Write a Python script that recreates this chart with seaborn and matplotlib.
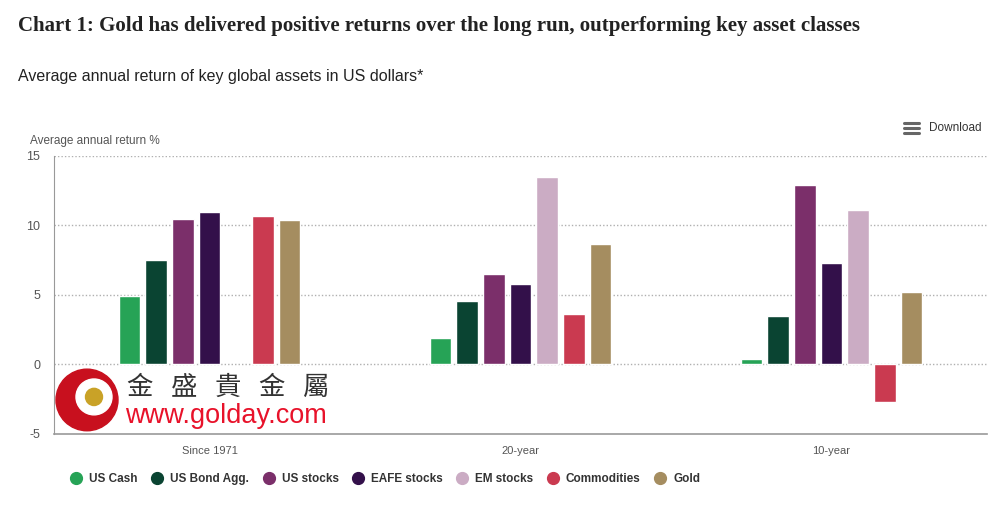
import numpy as np
import pandas as pd
import matplotlib.pyplot as plt
import seaborn as sns
from matplotlib.lines import Line2D
from matplotlib.patches import Ellipse

# Data
periods = ["Since 1971", "20-year", "10-year"]
assets = ["US Cash", "US Bond Agg.", "US stocks", "EAFE stocks", "EM stocks", "Commodities", "Gold"]
us_cash = [4.9, 1.9, 0.4]
us_bond = [7.5, 4.6, 3.5]
us_stocks = [10.5, 6.5, 12.9]
eafe_stocks = [11.0, 5.8, 7.3]
em_stocks = [np.nan, 13.5, 11.1]
commodities = [10.7, 3.6, -2.7]
gold = [10.4, 8.7, 5.2]
colors = ["#26a356", "#0a4432", "#7b2f6a", "#33104a", "#cbacc4", "#ca3a50", "#a58d60"]
yticks = [-5, 0, 5, 10, 15]

series = [us_cash, us_bond, us_stocks, eafe_stocks, em_stocks, commodities, gold]
rows = []
for asset, vals in zip(assets, series):
    for p, v in zip(periods, vals):
        rows.append({"period": p, "asset": asset, "value": v})
df = pd.DataFrame(rows).dropna()

sns.set_style("white")
plt.rcParams["font.family"] = ["Liberation Sans", "DejaVu Sans"]

fig = plt.figure(figsize=(10, 5.05), dpi=100)
ax = fig.add_axes([0.054, 0.1406, 0.933, 0.5505])

sns.barplot(data=df, x="period", y="value", hue="asset", order=periods,
            hue_order=assets, palette=colors, width=0.6, gap=0.18,
            errorbar=None, legend=False, saturation=1, ax=ax)

ax.set_ylim(-5, 15)
ax.set_xlim(-0.5, 2.5)
ax.set_yticks(yticks)
ax.set_yticklabels([str(t) for t in yticks], color="#555555", fontsize=9)
ax.tick_params(axis="y", length=0, pad=10)
ax.tick_params(axis="x", length=0, pad=9, labelsize=8, labelcolor="#555555")
for t in [0, 5, 10, 15]:
    ax.axhline(t, color="#b0b0b0", lw=1, ls=(0, (1, 1.5)), zorder=0)
ax.set_xlabel("")
ax.set_ylabel("")
for s in ["top", "right"]:
    ax.spines[s].set_visible(False)
ax.spines["left"].set_color("#999999")
ax.spines["bottom"].set_color("#999999")
ax.spines["bottom"].set_linewidth(1.2)

# titles
fig.text(0.018, 0.948, "Chart 1: Gold has delivered positive returns over the long run, outperforming key asset classes",
         family="Liberation Serif", fontweight="bold", fontsize=15, color="#222222", va="center")
fig.text(0.018, 0.848, "Average annual return of key global assets in US dollars*",
         fontsize=11.5, color="#222222", va="center")
fig.text(0.030, 0.720, "Average annual return %", fontsize=8.5, color="#555555", va="center")

# download button
for yy in [0.756, 0.746, 0.736]:
    fig.add_artist(Line2D([0.904, 0.919], [yy, yy], color="#666666", lw=2.2))
fig.text(0.929, 0.746, "Download", fontsize=8.5, color="#333333", va="center")

# legend
handles = [Line2D([], [], marker="o", ls="", color=c, markersize=8.5) for c in colors]
fig.legend(handles, assets, loc="center left", bbox_to_anchor=(0.054, 0.052), ncol=7,
           frameon=False, handletextpad=0.1, columnspacing=0.65,
           prop={"size": 8.5, "weight": "bold"}, labelcolor="#333333")

# watermark
fig.add_artist(Ellipse((0.087, 0.208), 0.062, 0.122, transform=fig.transFigure,
                       color="#c8101e", zorder=5))
fig.add_artist(Ellipse((0.094, 0.214), 0.036, 0.071, transform=fig.transFigure,
                       color="white", zorder=6))
fig.add_artist(Ellipse((0.094, 0.214), 0.017, 0.034, transform=fig.transFigure,
                       color="#c9a227", zorder=7))
fig.text(0.127, 0.232, "金   盛   貴   金   屬", family=["Noto Sans CJK TC", "DejaVu Sans"],
         fontsize=19, color="#333333", va="center", zorder=8)
fig.text(0.125, 0.177, "www.golday.com", fontsize=19.5, color="#e8122a", va="center", zorder=8)

fig.savefig("out.png", dpi=100)
